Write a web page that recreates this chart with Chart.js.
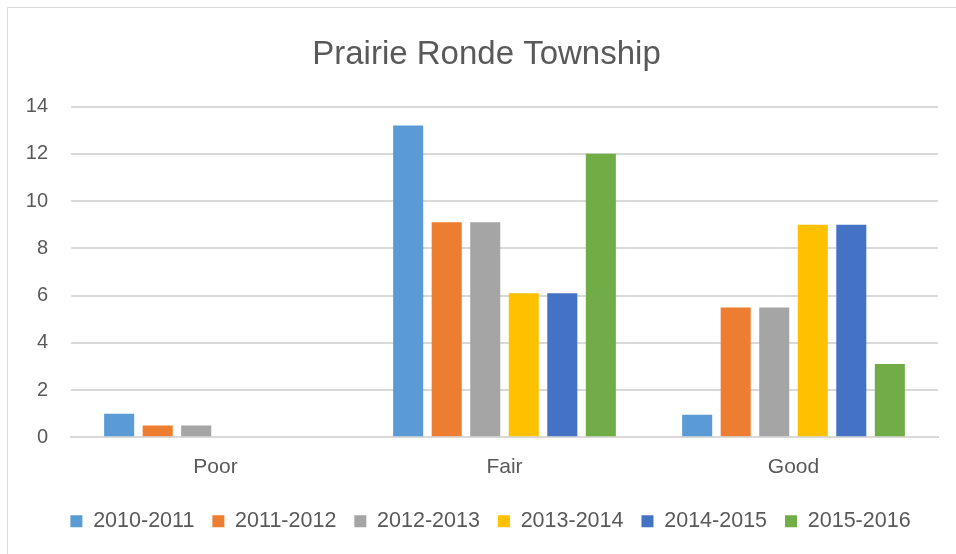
<!DOCTYPE html>
<html>
<head>
<meta charset="utf-8">
<script src="https://cdn.jsdelivr.net/npm/chart.js@4.4.1/dist/chart.umd.min.js"></script>
<style>
  html, body { margin: 0; padding: 0; background: #ffffff; overflow: hidden; }
  #wrap { position: absolute; left: 0; top: 0; width: 956px; height: 554px; }
  #frame { position: absolute; left: 7px; top: 7px; width: 960px; height: 560px; border: 1px solid #d9d9d9; box-sizing: border-box; pointer-events: none; }
</style>
</head>
<body>
<div id="wrap"><canvas id="c" width="956" height="554"></canvas></div>
<div id="frame"></div>
<script>
const categories = ["Poor", "Fair", "Good"];
const seriesNames = ["2010-2011", "2011-2012", "2012-2013", "2013-2014", "2014-2015", "2015-2016"];
const s2010 = [1, 13.2, 0.95];
const s2011 = [0.5, 9.1, 5.5];
const s2012 = [0.5, 9.1, 5.5];
const s2013 = [0, 6.1, 9];
const s2014 = [0, 6.1, 9];
const s2015 = [0, 12, 3.1];
const yTicks = [0, 2, 4, 6, 8, 10, 12, 14];
const colors = ["#5b9bd5", "#ed7d31", "#a5a5a5", "#ffc000", "#4472c4", "#70ad47"];

const seriesValues = [s2010, s2011, s2012, s2013, s2014, s2015];
const textColor = "#595959";
const fontFamily = "'Liberation Sans', Arial, sans-serif";
const leftPad = 25;

// small horizontal nudge of title and legend boxes (Excel centres them slightly right)
const nudgePlugin = {
  id: "nudge",
  afterLayout(chart) {
    const lg = chart.legend;
    if (lg) {
      lg.left += 9; lg.right += 9;
      if (lg.legendHitBoxes) lg.legendHitBoxes.forEach(b => { b.left += 9; });
    }
    const tt = chart.titleBlock;
    if (tt) { tt.left += 5; tt.right += 5; }
  }
};

new Chart(document.getElementById("c"), {
  type: "bar",
  data: {
    labels: categories,
    datasets: seriesNames.map((n, i) => ({
      label: n,
      data: seriesValues[i],
      backgroundColor: colors[i],
      borderWidth: 0,
      categoryPercentage: 0.8,
      barPercentage: 0.78
    }))
  },
  plugins: [nudgePlugin],
  options: {
    responsive: false,
    animation: false,
    devicePixelRatio: 1,
    layout: { padding: { left: leftPad, right: 18, top: 35, bottom: 12 } },
    plugins: {
      title: {
        display: true,
        text: "Prairie Ronde Township",
        color: textColor,
        font: { family: fontFamily, size: 33, weight: "normal" },
        padding: { top: 0, bottom: 32 }
      },
      legend: {
        position: "bottom",
        labels: {
          color: textColor,
          font: { family: fontFamily, size: 21.5 },
          boxWidth: 12,
          boxHeight: 12,
          padding: 18
        }
      },
      tooltip: { enabled: false }
    },
    scales: {
      x: {
        grid: { display: false, drawTicks: false },
        border: { color: "#d9d9d9", width: 2 },
        ticks: { color: textColor, font: { family: fontFamily, size: 21 }, padding: 17 },
        afterFit: (s) => { s.height -= 4; }
      },
      y: {
        min: 0,
        max: 14,
        afterBuildTicks: (scale) => { scale.ticks = yTicks.map(v => ({ value: v })); },
        grid: { color: "#d9d9d9", lineWidth: 2, drawTicks: false },
        border: { display: false },
        ticks: { color: textColor, font: { family: fontFamily, size: 20 }, padding: 23 },
        afterFit: (s) => { s.width = 71 - leftPad; }
      }
    }
  }
});
</script>
</body>
</html>
